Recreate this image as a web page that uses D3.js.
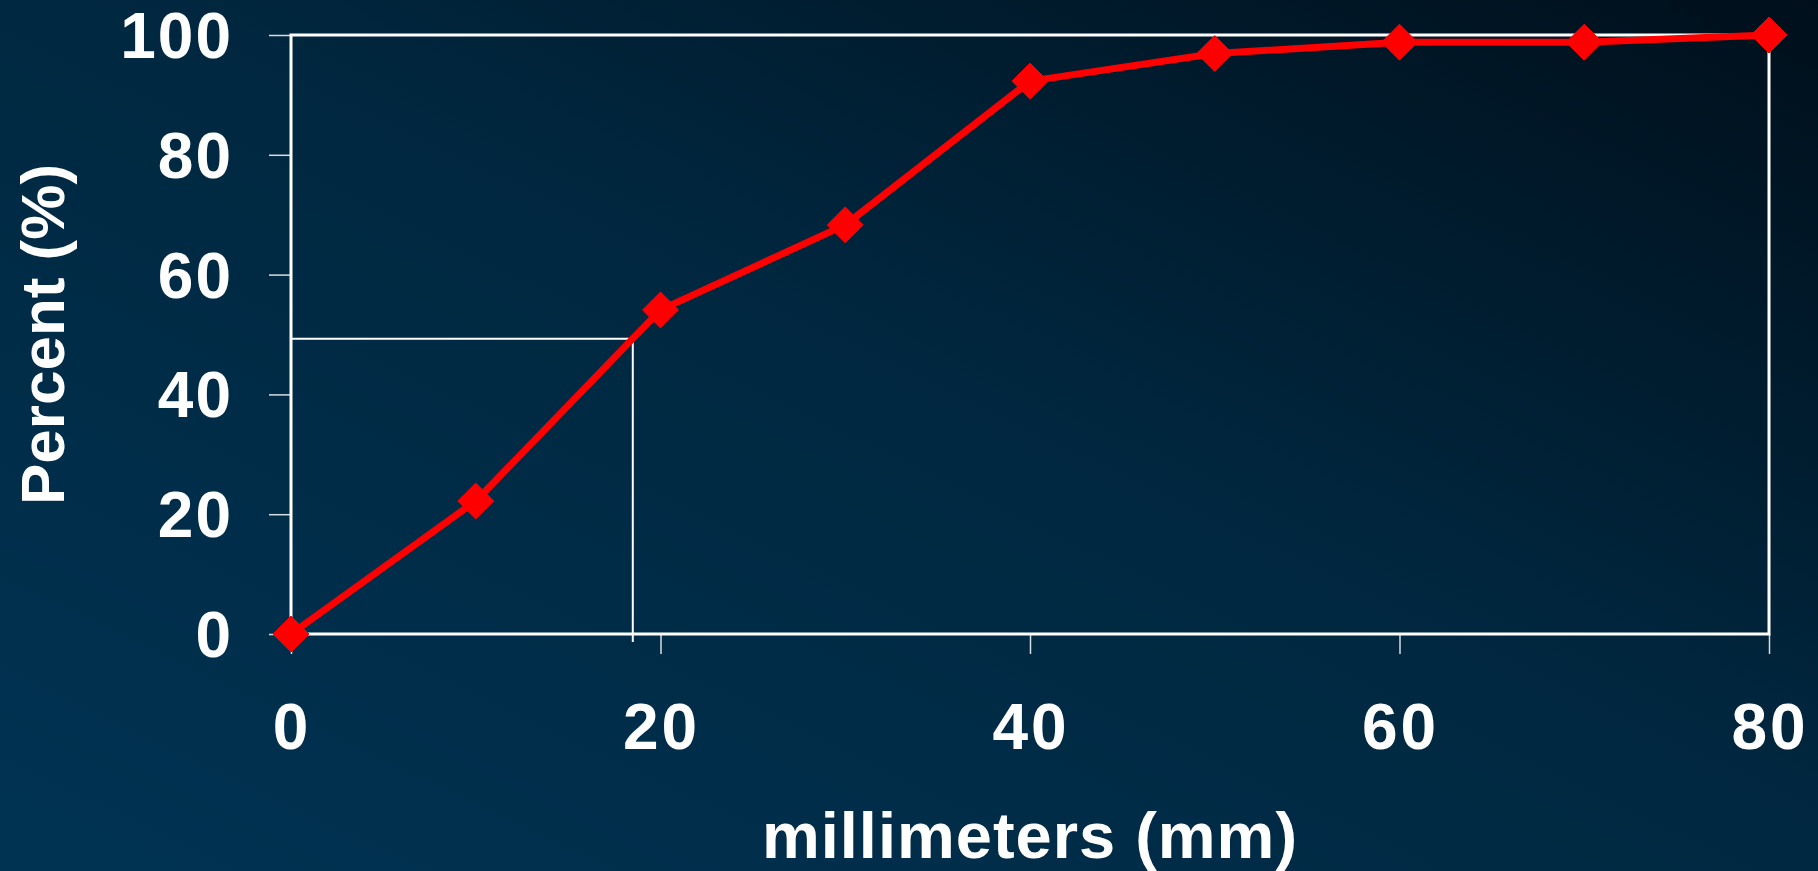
<!DOCTYPE html>
<html>
<head>
<meta charset="utf-8">
<script src="https://cdn.jsdelivr.net/npm/d3@7/dist/d3.min.js"></script>
<style>
  html, body { margin: 0; padding: 0; overflow: hidden; }
  svg { display: block; }
  text { font-family: "Liberation Sans", Arial, sans-serif; font-weight: bold; fill: #fff; }
</style>
</head>
<body>
<svg id="chart"></svg>
<script>
var width = 1818;
var height = 871;

// grading curve
var sizesMm = [0, 10, 20, 30, 40, 50, 60, 70, 80];
var percentPassing = [0, 22.2, 54.1, 68.3, 92.3, 96.9, 98.8, 98.8, 100];
var xTicks = [0, 20, 40, 60, 80];
var yTicks = [0, 20, 40, 60, 80, 100];
var d50 = { mm: 18.5, pct: 49.3 };

var margin = { top: 35, right: 49, bottom: 237, left: 291 };

var svg = d3.select('#chart')
  .attr('width', width)
  .attr('height', height);

var defs = svg.append('defs');
var grad = defs.append('linearGradient')
  .attr('id', 'bg')
  .attr('x1', '0%').attr('y1', '100%')
  .attr('x2', '100%').attr('y2', '0%');
grad.append('stop').attr('offset', '0%').attr('stop-color', '#003353');
grad.append('stop').attr('offset', '55%').attr('stop-color', '#00273f');
grad.append('stop').attr('offset', '100%').attr('stop-color', '#000f1b');

svg.append('rect')
  .attr('width', width)
  .attr('height', height)
  .attr('fill', 'url(#bg)');

var x = d3.scaleLinear().domain([0, 80]).range([margin.left, width - margin.right]);
var y = d3.scaleLinear().domain([0, 100]).range([height - margin.bottom, margin.top]);

// axes (ticks only, labels drawn separately)
var yAxis = svg.append('g')
  .attr('transform', 'translate(' + margin.left + ',0)')
  .call(d3.axisLeft(y).tickValues(yTicks).tickSize(22).tickFormat(''));
var xAxis = svg.append('g')
  .attr('transform', 'translate(0,' + y(0) + ')')
  .call(d3.axisBottom(x).tickValues(xTicks).tickSize(20).tickFormat(''));
[yAxis, xAxis].forEach(function (a) {
  a.select('.domain').remove();
  a.selectAll('.tick line').attr('stroke', '#d8dde2').attr('stroke-width', 1.5);
});

// plot frame
svg.append('rect')
  .attr('x', x(0))
  .attr('y', y(100))
  .attr('width', x(80) - x(0))
  .attr('height', y(0) - y(100))
  .attr('fill', 'none')
  .attr('stroke', '#fff')
  .attr('stroke-width', 3);

// D50 guide lines
svg.append('path')
  .attr('d', 'M' + x(0) + ',' + y(d50.pct) + 'H' + x(d50.mm) + 'V' + (y(0) + 8))
  .attr('fill', 'none')
  .attr('stroke', '#fff')
  .attr('stroke-width', 2);

// tick labels
svg.selectAll('.ylab')
  .data(yTicks)
  .enter().append('text')
  .attr('class', 'ylab')
  .attr('x', 233)
  .attr('y', function (d) { return y(d); })
  .attr('dy', '0.36em')
  .attr('text-anchor', 'end')
  .style('font-size', '64px')
  .style('letter-spacing', '2px')
  .text(function (d) { return d; });

svg.selectAll('.xlab')
  .data(xTicks)
  .enter().append('text')
  .attr('class', 'xlab')
  .attr('x', function (d) { return x(d) + 1; })
  .attr('y', 749)
  .attr('text-anchor', 'middle')
  .style('font-size', '64px')
  .style('letter-spacing', '3px')
  .text(function (d) { return d; });

// axis titles
svg.append('text')
  .attr('x', (x(0) + x(80)) / 2)
  .attr('y', 858)
  .attr('text-anchor', 'middle')
  .style('font-size', '65px')
  .style('letter-spacing', '1px')
  .text('millimeters (mm)');

svg.append('text')
  .attr('transform', 'translate(64,' + ((y(0) + y(100)) / 2) + ') rotate(-90)')
  .attr('text-anchor', 'middle')
  .style('font-size', '62px')
  .text('Percent (%)');

// the curve
var pts = sizesMm.map(function (d, i) { return [d, percentPassing[i]]; });
var line = d3.line()
  .x(function (d) { return x(d[0]); })
  .y(function (d) { return y(d[1]); });

svg.append('path')
  .datum(pts)
  .attr('d', line)
  .attr('fill', 'none')
  .attr('stroke', '#ff0000')
  .attr('stroke-width', 7)
  .attr('stroke-linejoin', 'round');

svg.selectAll('.marker')
  .data(pts)
  .enter().append('path')
  .attr('class', 'marker')
  .attr('transform', function (d) { return 'translate(' + x(d[0]) + ',' + y(d[1]) + ')'; })
  .attr('d', 'M0,-18L18,0L0,18L-18,0Z')
  .attr('fill', '#ff0000')
  .attr('stroke', '#ff0000')
  .attr('stroke-width', 1)
  .attr('stroke-linejoin', 'round');
</script>
</body>
</html>
